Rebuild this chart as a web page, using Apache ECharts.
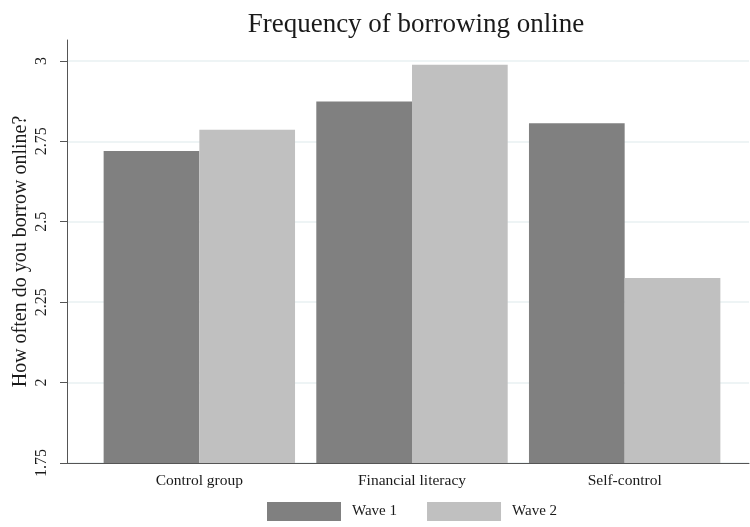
<!DOCTYPE html>
<html>
<head>
<meta charset="utf-8">
<script src="https://cdn.jsdelivr.net/npm/echarts@6/dist/echarts.min.js"></script>
<style>
  html, body { margin: 0; padding: 0; background: #fff; }
  #chart { width: 750px; height: 527px; }
</style>
</head>
<body>
<div id="chart"></div>
<script>
// data
const categories = ['Control group', 'Financial literacy', 'Self-control'];
const wave1 = [2.72, 2.874, 2.806];
const wave2 = [2.786, 2.988, 2.325];
const yTicks = [1.75, 2, 2.25, 2.5, 2.75, 3];
const seriesNames = ['Wave 1', 'Wave 2'];

const serif = '"Liberation Serif", "DejaVu Serif", serif';
const yMin = 1.75, yMax = 3.065;

const chart = echarts.init(document.getElementById('chart'), null, { renderer: 'canvas' });

const option = {
  animation: false,
  backgroundColor: '#ffffff',
  title: {
    text: 'Frequency of borrowing online',
    left: 411,
    top: 6,
    textAlign: 'center',
    textStyle: { fontFamily: serif, fontSize: 27, fontWeight: 'normal', color: '#1a1a1a' }
  },
  legend: {
    data: seriesNames,
    left: 262,
    bottom: 1,
    icon: 'rect',
    itemWidth: 74,
    itemHeight: 19,
    itemGap: 30,
    textStyle: { fontFamily: serif, fontSize: 15, color: '#1a1a1a', padding: [0, 0, 0, 6] }
  },
  grid: [
    // bars
    { left: 93, right: 19, top: 40, bottom: 64, outerBoundsMode: 'none' },
    // frame, y axis, gridlines
    { left: 67, right: 1, top: 40, bottom: 64, outerBoundsMode: 'none' }
  ],
  xAxis: [
    {
      type: 'category', gridIndex: 0, data: categories,
      axisLine: { show: false }, axisTick: { show: false },
      axisLabel: { margin: 10, fontFamily: serif, fontSize: 15.5, color: '#1a1a1a' }
    },
    {
      type: 'value', gridIndex: 1, min: 0, max: 1,
      axisLine: { show: true, lineStyle: { color: '#555', width: 1 } },
      axisTick: { show: false }, axisLabel: { show: false }, splitLine: { show: false }
    }
  ],
  yAxis: [
    { type: 'value', gridIndex: 0, min: yMin, max: yMax, show: false },
    {
      type: 'value', gridIndex: 1, min: yMin, max: yMax,
      name: 'How often do you borrow online?',
      nameLocation: 'middle',
      nameGap: 36,
      nameMoveOverlap: false,
      nameTextStyle: { fontFamily: serif, fontSize: 20, color: '#1a1a1a' },
      axisLine: { show: true, lineStyle: { color: '#555', width: 1 } },
      axisTick: { show: true, length: 7, customValues: yTicks, lineStyle: { color: '#555' } },
      axisLabel: {
        customValues: yTicks, rotate: 90, margin: 17,
        fontFamily: serif, fontSize: 16, color: '#1a1a1a'
      },
      splitLine: { show: true, lineStyle: { color: '#e9f0f2', width: 1.5 } }
    }
  ],
  series: [
    {
      name: seriesNames[0], type: 'bar', xAxisIndex: 0, yAxisIndex: 0,
      data: wave1, barGap: '0%', barCategoryGap: '10%',
      itemStyle: { color: '#808080' }, z: 3
    },
    {
      name: seriesNames[1], type: 'bar', xAxisIndex: 0, yAxisIndex: 0,
      data: wave2, barGap: '0%', barCategoryGap: '10%',
      itemStyle: { color: '#c0c0c0' }, z: 3
    }
  ]
};

chart.setOption(option);
</script>
</body>
</html>
